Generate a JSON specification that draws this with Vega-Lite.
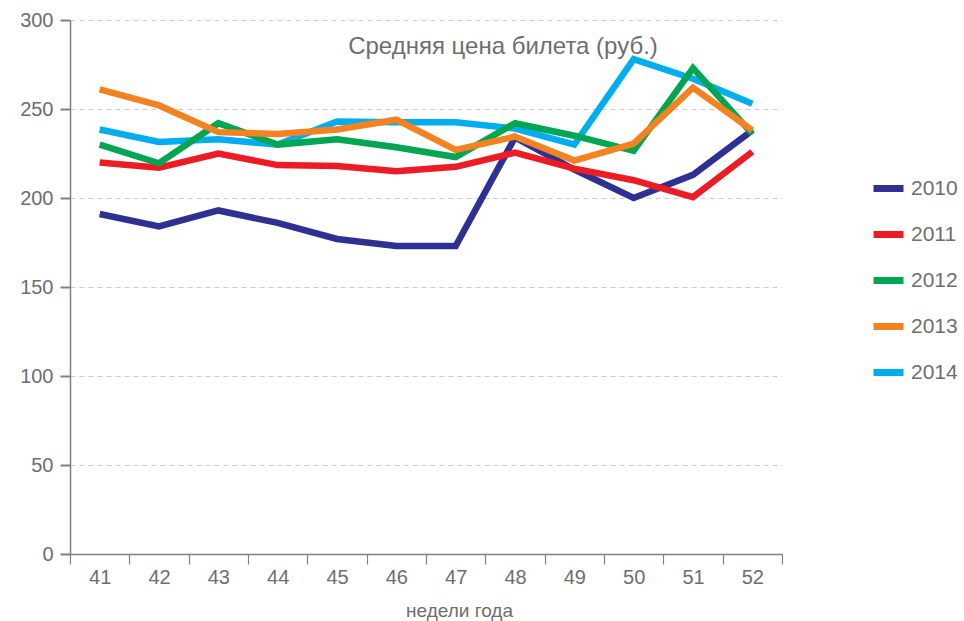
{
  "$schema": "https://vega.github.io/schema/vega-lite/v6.json",
  "autosize": {"type": "none"},
  "padding": {"left": 70, "top": 20, "right": 182, "bottom": 67},
  "width": 712,
  "height": 534,
  "background": "white",
  "title": {
    "text": "Средняя цена билета (руб.)",
    "anchor": "middle",
    "dx": 77,
    "offset": -68,
    "baseline": "alphabetic",
    "font": "Liberation Sans",
    "fontSize": 24,
    "fontWeight": "normal",
    "color": "#6d6e71"
  },
  "config": {
    "view": {"stroke": null},
    "font": "Liberation Sans"
  },
  "data": {
    "values": [
      {"year": "2010", "week": "41", "price": 191},
      {"year": "2010", "week": "42", "price": 184},
      {"year": "2010", "week": "43", "price": 193},
      {"year": "2010", "week": "44", "price": 186},
      {"year": "2010", "week": "45", "price": 177},
      {"year": "2010", "week": "46", "price": 173},
      {"year": "2010", "week": "47", "price": 173},
      {"year": "2010", "week": "48", "price": 234},
      {"year": "2010", "week": "49", "price": 216},
      {"year": "2010", "week": "50", "price": 200},
      {"year": "2010", "week": "51", "price": 213},
      {"year": "2010", "week": "52", "price": 238},
      {"year": "2011", "week": "41", "price": 220},
      {"year": "2011", "week": "42", "price": 217},
      {"year": "2011", "week": "43", "price": 225},
      {"year": "2011", "week": "44", "price": 218.5},
      {"year": "2011", "week": "45", "price": 218},
      {"year": "2011", "week": "46", "price": 215},
      {"year": "2011", "week": "47", "price": 217.5},
      {"year": "2011", "week": "48", "price": 225.5},
      {"year": "2011", "week": "49", "price": 216.5},
      {"year": "2011", "week": "50", "price": 210},
      {"year": "2011", "week": "51", "price": 200.5},
      {"year": "2011", "week": "52", "price": 226},
      {"year": "2014", "week": "41", "price": 238.5},
      {"year": "2014", "week": "42", "price": 231.5},
      {"year": "2014", "week": "43", "price": 233},
      {"year": "2014", "week": "44", "price": 230},
      {"year": "2014", "week": "45", "price": 243},
      {"year": "2014", "week": "46", "price": 242.5},
      {"year": "2014", "week": "47", "price": 242.5},
      {"year": "2014", "week": "48", "price": 239},
      {"year": "2014", "week": "49", "price": 230},
      {"year": "2014", "week": "50", "price": 278},
      {"year": "2014", "week": "51", "price": 267},
      {"year": "2014", "week": "52", "price": 253},
      {"year": "2012", "week": "41", "price": 230},
      {"year": "2012", "week": "42", "price": 219.5},
      {"year": "2012", "week": "43", "price": 242},
      {"year": "2012", "week": "44", "price": 230},
      {"year": "2012", "week": "45", "price": 233},
      {"year": "2012", "week": "46", "price": 228.5},
      {"year": "2012", "week": "47", "price": 223},
      {"year": "2012", "week": "48", "price": 242},
      {"year": "2012", "week": "49", "price": 235},
      {"year": "2012", "week": "50", "price": 226.5},
      {"year": "2012", "week": "51", "price": 273},
      {"year": "2012", "week": "52", "price": 236},
      {"year": "2013", "week": "41", "price": 261},
      {"year": "2013", "week": "42", "price": 252},
      {"year": "2013", "week": "43", "price": 237},
      {"year": "2013", "week": "44", "price": 236},
      {"year": "2013", "week": "45", "price": 238.5},
      {"year": "2013", "week": "46", "price": 244},
      {"year": "2013", "week": "47", "price": 227},
      {"year": "2013", "week": "48", "price": 234.5},
      {"year": "2013", "week": "49", "price": 221},
      {"year": "2013", "week": "50", "price": 230.5},
      {"year": "2013", "week": "51", "price": 262},
      {"year": "2013", "week": "52", "price": 238}
    ]
  },
  "mark": {"type": "line", "strokeWidth": 6.5, "strokeJoin": "miter", "strokeCap": "butt"},
  "encoding": {
    "x": {
      "field": "week",
      "type": "ordinal",
      "sort": null,
      "scale": {"type": "band", "paddingInner": 0, "paddingOuter": 0},
      "axis": {
        "title": "недели года",
        "titleFont": "Liberation Sans",
        "titleFontSize": 19,
        "titleFontWeight": "normal",
        "titleColor": "#6d6e71",
        "titleX": 389,
        "titleY": 56,
        "titleBaseline": "middle",
        "titleAlign": "center",
        "labelAngle": 0,
        "labelFontSize": 20,
        "labelColor": "#6d6e71",
        "labelPadding": 3,
        "tickBand": "extent",
        "tickSize": 10,
        "tickColor": "#808080",
        "tickWidth": 1.2,
        "domainColor": "#808080",
        "domainWidth": 1.5,
        "grid": false
      }
    },
    "y": {
      "field": "price",
      "type": "quantitative",
      "scale": {"domain": [0, 300], "nice": false, "zero": true},
      "axis": {
        "title": null,
        "values": [0, 50, 100, 150, 200, 250, 300],
        "labelFontSize": 20,
        "labelColor": "#6d6e71",
        "labelPadding": 7,
        "tickSize": 10,
        "tickWidth": 2,
        "tickColor": "#808080",
        "domainColor": "#808080",
        "domainWidth": 1.5,
        "grid": true,
        "gridColor": "#cccccc",
        "gridDash": [5, 4],
        "gridWidth": 1
      }
    },
    "color": {
      "field": "year",
      "type": "nominal",
      "scale": {
        "domain": ["2010", "2011", "2012", "2013", "2014"],
        "range": ["#2e3192", "#ed1c24", "#00a651", "#f58220", "#00aeef"]
      },
      "legend": {
        "title": null,
        "orient": "none",
        "legendX": 800,
        "legendY": 150,
        "symbolType": "stroke",
        "symbolSize": 900,
        "symbolStrokeWidth": 7,
        "labelFontSize": 21,
        "labelColor": "#6d6e71",
        "labelOffset": 4,
        "rowPadding": 13
      }
    }
  }
}
